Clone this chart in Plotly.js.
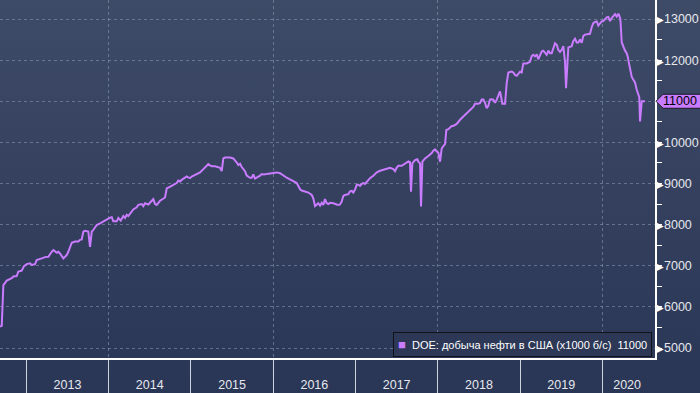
<!DOCTYPE html>
<html><head><meta charset="utf-8">
<script src="https://cdn.plot.ly/plotly-3.0.1.min.js"></script>
<style>
html,body{margin:0;padding:0;background:#2a3656;}
#chart{width:700px;height:393px;background:linear-gradient(to bottom,#3e4b67 0%,#34405e 50%,#2a3656 100%);}
</style>
</head><body><div id="chart"></div>
<script>
// time in decimal years
const years = [
2012.680,2012.701,2012.721,2012.762,2012.823,2012.842,2012.883,2012.903,2012.944,2012.972,
2013.005,2013.045,2013.066,2013.106,2013.126,2013.166,2013.187,2013.227,2013.267,2013.309,
2013.328,2013.369,2013.389,2013.409,2013.450,2013.491,2013.510,2013.552,2013.592,2013.632,
2013.652,2013.673,2013.693,2013.713,2013.753,2013.774,2013.795,2013.814,2013.855,2013.896,
2013.936,2013.977,2014.017,2014.038,2014.057,2014.098,2014.118,2014.147,2014.179,2014.199,
2014.220,2014.239,2014.281,2014.300,2014.341,2014.361,2014.402,2014.422,2014.442,2014.482,
2014.524,2014.543,2014.564,2014.584,2014.625,2014.665,2014.685,2014.706,2014.746,2014.767,
2014.786,2014.827,2014.847,2014.868,2014.888,2014.928,2014.949,2014.968,2014.989,2015.010,
2015.029,2015.071,2015.111,2015.151,2015.192,2015.211,2015.232,2015.253,2015.293,2015.333,
2015.354,2015.374,2015.394,2015.414,2015.435,2015.475,2015.515,2015.536,2015.557,2015.576,
2015.597,2015.617,2015.637,2015.657,2015.678,2015.698,2015.718,2015.739,2015.758,2015.779,
2015.800,2015.840,2015.860,2015.880,2015.921,2015.961,2016.001,2016.043,2016.083,2016.123,
2016.164,2016.204,2016.244,2016.286,2016.305,2016.326,2016.346,2016.386,2016.427,2016.468,
2016.487,2016.508,2016.529,2016.548,2016.569,2016.589,2016.609,2016.629,2016.650,2016.670,
2016.690,2016.730,2016.772,2016.791,2016.812,2016.832,2016.852,2016.872,2016.913,2016.933,
2016.954,2016.973,2016.994,2017.015,2017.034,2017.055,2017.075,2017.095,2017.115,2017.156,
2017.176,2017.216,2017.258,2017.298,2017.338,2017.379,2017.419,2017.459,2017.480,2017.501,
2017.520,2017.561,2017.601,2017.622,2017.642,2017.662,2017.674,2017.690,2017.723,2017.751,
2017.763,2017.784,2017.796,2017.812,2017.845,2017.885,2017.926,2017.945,2017.966,2017.987,
2018.006,2018.027,2018.047,2018.067,2018.088,2018.103,2018.128,2018.169,2018.188,2018.230,
2018.249,2018.270,2018.310,2018.351,2018.371,2018.412,2018.431,2018.452,2018.492,2018.513,
2018.533,2018.553,2018.574,2018.594,2018.614,2018.634,2018.655,2018.674,2018.695,2018.716,
2018.735,2018.756,2018.768,2018.784,2018.817,2018.837,2018.857,2018.898,2018.917,2018.938,
2018.959,2018.978,2018.999,2019.019,2019.039,2019.080,2019.100,2019.120,2019.141,2019.160,
2019.181,2019.202,2019.221,2019.242,2019.262,2019.282,2019.303,2019.323,2019.343,2019.363,
2019.384,2019.403,2019.424,2019.445,2019.464,2019.485,2019.506,2019.525,2019.546,2019.558,
2019.574,2019.586,2019.627,2019.646,2019.667,2019.688,2019.707,2019.728,2019.749,2019.768,
2019.789,2019.829,2019.849,2019.870,2019.889,2019.910,2019.931,2019.950,2019.971,2019.992,
2020.011,2020.032,2020.052,2020.072,2020.092,2020.113,2020.132,2020.153,2020.174,2020.193,
2020.202,2020.218,2020.235,2020.254,2020.275,2020.295,2020.307,2020.323,2020.356,2020.376,
2020.396,2020.417,2020.436,2020.448,2020.457,2020.469,2020.478,2020.497,2020.518
];
// DOE weekly US crude production, thousand barrels/day
const production = [
5520,5540,6530,6640,6700,6740,6750,6860,6880,6990,
7040,7060,7020,7040,7140,7160,7180,7210,7220,7340,
7380,7320,7340,7300,7180,7260,7340,7560,7590,7590,
7630,7640,7830,7850,7830,7460,7830,7870,7990,8030,
8080,8130,8170,8180,8080,8080,8160,8100,8210,8160,
8240,8210,8320,8370,8420,8480,8500,8450,8520,8490,
8580,8620,8500,8480,8580,8640,8660,8880,8910,8940,
8970,9010,9070,9050,9090,9150,9170,9150,9130,9170,
9190,9230,9270,9350,9430,9470,9440,9420,9420,9400,
9380,9300,9610,9630,9630,9630,9610,9570,9510,9450,
9480,9400,9350,9300,9190,9160,9140,9140,9220,9120,
9140,9190,9230,9220,9230,9240,9250,9270,9250,9190,
9140,9100,9060,9010,8940,8860,8830,8810,8780,8720,
8640,8450,8480,8520,8460,8530,8480,8620,8520,8500,
8530,8520,8490,8480,8490,8560,8700,8720,8740,8810,
8820,8780,8850,8970,8970,8940,8990,9010,8990,9090,
9130,9190,9270,9310,9330,9350,9380,9350,9300,9390,
9430,9430,9480,9510,9540,9520,8800,9490,9570,9590,
9530,9490,8440,9530,9610,9670,9740,9800,9830,9780,
9750,9530,9850,9910,9960,10300,10320,10400,10400,10450,
10510,10550,10630,10710,10750,10810,10860,10940,10940,10960,
11040,11040,10960,10830,10890,11040,11050,11040,10960,11040,
11120,11240,11120,10940,10940,11440,11700,11720,11700,11640,
11620,11680,11720,11700,11920,11920,11940,11960,12100,12130,
12090,12140,12020,12130,12210,12230,12170,12130,12230,12170,
12170,12290,12410,12370,12250,12200,12250,12340,11950,11320,
12010,12310,12340,12460,12520,12430,12430,12500,12420,12590,
12620,12630,12640,12800,12900,12930,12940,12840,12890,12940,
12950,12990,13040,13050,12950,13020,13060,13120,13060,13130,
13100,13000,12430,12310,12230,12170,12090,11920,11600,11520,
11460,11280,11160,11100,10510,10800,11000,11000,11000
];
const yearBoundaries = [2013,2014,2015,2016,2017,2018,2019,2020];
const gridYears = [2014,2016,2018,2020];
const yearLabelPos = [2013.5,2014.5,2015.5,2016.5,2017.5,2018.5,2019.5,2020.3];
const yearLabels = ['2013','2014','2015','2016','2017','2018','2019','2020'];
const yTicks = [5000,6000,7000,8000,9000,10000,11000,12000,13000];
const lastValue = 11000;
const seriesName = 'DOE: добыча нефти в США (x1000 б/с)';

const lineColor = '#c97cff';
const xRange = [2012.680, 2020.639];
const yRange = [4757, 13462];
const gridColor = 'rgba(150,165,190,0.5)';
const fontFam = 'Liberation Sans, Arial, sans-serif';
const tickFont = {family:fontFam, size:12.5, color:'#e6e8ee'};

const yTickText = yTicks.map(v => v === lastValue ? '' : '<span style="font-size:10px;color:#ffffff">\u25B6</span>' + v);

const data = [
  {x: years, y: production, type:'scatter', mode:'lines',
   line:{color:lineColor, width:2}, showlegend:false, hoverinfo:'skip'},
  // helper traces so the overlay axes (grid / labels) get drawn
  {x:[null], y:[null], xaxis:'x2', yaxis:'y', type:'scatter', mode:'lines', showlegend:false, hoverinfo:'skip'},
  {x:[null], y:[null], xaxis:'x3', yaxis:'y', type:'scatter', mode:'lines', showlegend:false, hoverinfo:'skip'}
];

const layout = {
  width:700, height:393,
  margin:{l:0, r:45, t:0, b:35},
  paper_bgcolor:'rgba(0,0,0,0)', plot_bgcolor:'rgba(0,0,0,0)',
  showlegend:false,
  xaxis:{
    range:xRange, type:'linear', tickmode:'array', tickvals:yearBoundaries,
    showticklabels:false, ticks:'outside', ticklen:35, tickwidth:1, tickcolor:'rgba(235,238,245,0.85)',
    showgrid:false, zeroline:false, showline:true, linecolor:'#ffffff', linewidth:1.5, fixedrange:true
  },
  xaxis2:{
    range:xRange, type:'linear', overlaying:'x', anchor:'y', side:'bottom',
    tickmode:'array', tickvals:gridYears, showticklabels:false, ticks:'',
    showgrid:true, gridcolor:gridColor, griddash:'3px,3px', gridwidth:1, zeroline:false, showline:false
  },
  xaxis3:{
    range:xRange, type:'linear', overlaying:'x', anchor:'y', side:'bottom',
    tickmode:'array', tickvals:yearLabelPos, ticktext:yearLabels,
    ticks:'outside', ticklen:15, tickcolor:'rgba(0,0,0,0)', tickfont:tickFont,
    showgrid:false, zeroline:false, showline:false
  },
  yaxis:{
    range:yRange, side:'right', tickmode:'array', tickvals:yTicks, ticktext:yTickText,
    tickfont:tickFont, ticks:'', ticklabelstandoff:-3,
    showgrid:true, gridcolor:gridColor, griddash:'3px,3px', gridwidth:1,
    minor:{dtick:500, tick0:4500, ticks:'outside', ticklen:5, tickcolor:'#ffffff', showgrid:false},
    zeroline:false, showline:true, linecolor:'#ffffff', linewidth:1.5, fixedrange:true
  },
  shapes:[{
    type:'path', xref:'paper', yref:'y', xsizemode:'pixel', ysizemode:'pixel',
    xanchor:1, yanchor:lastValue,
    path:'M 1 0 L 8 7 L 46 7 L 46 -7 L 8 -7 Z',
    fillcolor:lineColor, line:{color:'#1a1a24', width:1}, layer:'above'
  }],
  annotations:[{
    xref:'paper', yref:'y', x:1, y:lastValue, xanchor:'left', yanchor:'middle', xshift:6,
    text:String(lastValue), showarrow:false,
    font:{family:fontFam, size:12.5, color:'#000000'}
  },{
    xref:'paper', yref:'paper', x:652/655, y:1.5/358, xanchor:'right', yanchor:'bottom',
    text:'<span style="color:'+lineColor+';font-size:13px">\u25A0</span>&nbsp;&nbsp;'+seriesName+'&nbsp;&nbsp;'+lastValue,
    showarrow:false, align:'left',
    font:{family:fontFam, size:11, color:'#ffffff'},
    bgcolor:'#2c3856', bordercolor:'#111118', borderwidth:1, borderpad:4
  }]
};

Plotly.newPlot('chart', data, layout, {displayModeBar:false, staticPlot:true});
</script>
</body></html>
